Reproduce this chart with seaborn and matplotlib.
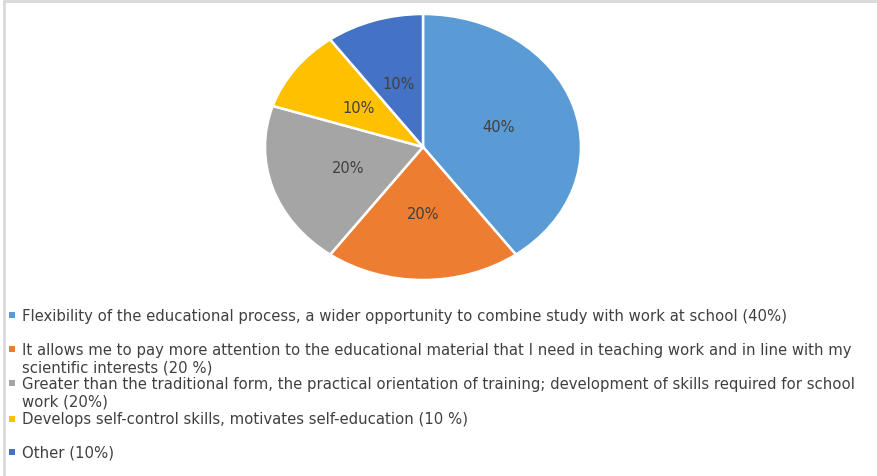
import matplotlib
matplotlib.use("Agg")
import matplotlib.pyplot as plt
import seaborn as sns
from matplotlib.patches import Rectangle

sns.set_theme(style="white")
plt.rcParams["font.family"] = ["DejaVu Sans"]

# Survey shares, in percent
shares = [40, 20, 20, 10, 10]
colors = ["#5B9BD5", "#ED7D31", "#A5A5A5", "#FFC000", "#4472C4"]
legend_lines = [
    ["Flexibility of the educational process, a wider opportunity to combine study with work at school (40%)"],
    ["It allows me to pay more attention to the educational material that I need in teaching work and in line with my",
     "scientific interests (20 %)"],
    ["Greater than the traditional form, the practical orientation of training; development of skills required for school",
     "work (20%)"],
    ["Develops self-control skills, motivates self-education (10 %)"],
    ["Other (10%)"],
]
# pixel row of the first line of each legend entry (from the top)
legend_rows = [316, 350, 384, 420, 453]

W, H = 878, 477
fig = plt.figure(figsize=(W / 100, H / 100), dpi=100)
fig.patch.set_facecolor("white")

# pie axes spans the (slightly flattened) pie bounds
ax = fig.add_axes([265 / W, 1 - 281 / H, 316 / W, 266 / H])
wedges, texts, autotexts = ax.pie(
    shares,
    colors=colors,
    startangle=90,
    counterclock=False,
    autopct=lambda p: f"{p:.0f}%",
    pctdistance=0.5,
    wedgeprops=dict(edgecolor="white", linewidth=1.8),
    textprops=dict(color="#404040", fontsize=10.5),
)
ax.set_aspect("auto")
ax.set_xlim(-1.0, 1.0)
ax.set_ylim(-1.0, 1.0)
ax.axis("off")

# legend drawn as marker squares + text lines
line_gap = 18
for color, lines, row in zip(colors, legend_lines, legend_rows):
    fig.patches.append(Rectangle((9 / W, 1 - (row + 3) / H), 6 / W, 6 / H,
                                 transform=fig.transFigure, facecolor=color,
                                 edgecolor="none"))
    for i, line in enumerate(lines):
        fig.text(22 / W, 1 - (row + i * line_gap) / H, line, fontsize=10.7,
                 color="#404040", va="center", ha="left")

# thin light frame at top and left
fig.add_artist(plt.Line2D([4 / W, 1], [1 - 2 / H, 1 - 2 / H], color="#D9D9D9",
                          linewidth=2, transform=fig.transFigure))
fig.add_artist(plt.Line2D([4 / W, 4 / W], [0, 1 - 2 / H], color="#D9D9D9",
                          linewidth=2, transform=fig.transFigure))

fig.savefig("out.png", dpi=100, facecolor="white")
